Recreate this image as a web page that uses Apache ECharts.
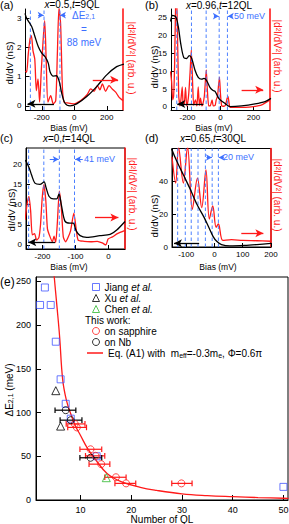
<!DOCTYPE html>
<html><head><meta charset="utf-8">
<script src="https://cdn.jsdelivr.net/npm/echarts@6/dist/echarts.min.js"></script>
<style>html,body{margin:0;padding:0;background:#fff}#c{width:289px;height:524px}</style>
</head><body><div id="c"></div>
<script>
// ---------- DATA ----------
// Panel (a): x=0.5, t=9QL   [bias mV, value]
const a_dIdV = [[-303,3.16],[-293,2.99],[-262,2.71],[-242,2.37],[-221,2.02],[-200,1.8],[-180,1.68],[-160,1.46],[-149,1.17],[-129,1.02],[-110,1.03],[-92,0.83],[-77,0.43],[-57,0.09],[-26,0.0],[15,0.07],[77,0.32],[138,0.66],[200,1.06],[261,1.34],[306,1.43]];
const a_d2 = [[-300,1.2],[-293,1.15],[-283,1.77],[-272,2.29],[-264,2.4],[-254,1.89],[-243,1.6],[-233,0.52],[-223,0.92],[-213,0.13],[-203,1.2],[-192,2.2],[-182,2.91],[-172,1.43],[-162,0.13],[-145,0.35],[-129,0.07],[-114,0.18],[-104,1.77],[-94,3.35],[-84,2.8],[-73,0.64],[-63,0.13],[-43,0.1],[-2,0.07],[40,0.18],[80,0.39],[101,0.58],[122,0.5],[142,0.69],[158,0.55],[173,0.75],[193,0.5],[214,0.69],[234,0.58],[255,0.47],[275,0.3],[300,0.18]];
const a_levels = [-270,-186,-88];
// Panel (b): x=0.96, t=12QL
const b_dIdV = [[-303,24],[-290,25.7],[-270,25.2],[-256,22.6],[-240,17.5],[-222,13.8],[-205,13.6],[-190,14.4],[-175,13.7],[-155,10.4],[-135,8.3],[-115,7.8],[-100,8.0],[-84,7.4],[-64,5.5],[-45,4.6],[-33,4.4],[-17,2.9],[-3,2.0],[27,1.0],[58,0.1],[128,0.3],[209,0.85],[270,1.5],[306,2.4]];
const b_d2 = [[-303,10],[-296,7],[-290,2],[-284,3],[-278,12],[-272,28.5],[-265,30],[-259,16],[-253,3],[-246,0.3],[-240,2],[-232,5.6],[-226,0.5],[-219,1],[-212,5.5],[-205,0.3],[-198,1.5],[-192,4],[-184,10],[-177,16],[-170,8],[-163,0.5],[-152,2],[-143,0.3],[-135,5.6],[-128,0.4],[-121,2.5],[-113,0.3],[-107,0.8],[-98,3],[-92,7],[-86,10.4],[-80,5],[-72,0.3],[-62,0.3],[-51,2],[-44,0.3],[-32,0.5],[-26,2],[-18,3],[-12,6],[-6,8.4],[0,3.5],[7,0.3],[18,0.2],[30,0.5],[40,2.4],[46,2.9],[52,1],[58,-0.1],[100,-0.1],[150,-0.1],[200,0.1],[250,0.6],[300,2]];
const b_levels = [-265,-176,-87,-8,42];
// Panel (c): x=0, t=14QL
const c_dIdV = [[-252,21],[-248,20.4],[-240,19],[-233,17.3],[-223,15.3],[-208,15.0],[-195,15.6],[-190,14.4],[-180,12],[-167,11.4],[-157,11.4],[-150,12.6],[-143,10],[-132,5.9],[-117,5.4],[-107,5.4],[-98,3.5],[-86,2.3],[-66,1.9],[-26,2.3],[5,2.6],[25,3.7],[50,5.8]];
const c_d2 = [[-253,6.2],[-246,10.5],[-241,12],[-236,8.5],[-231,2.5],[-224,2.8],[-218,1.2],[-211,1.8],[-206,5],[-201,11.5],[-196,14.9],[-190,11],[-185,4],[-177,2],[-170,0.8],[-165,2.2],[-160,0.6],[-155,5.5],[-149,13.3],[-143,9.2],[-137,2],[-130,0.8],[-123,1.8],[-115,3.5],[-105,7.9],[-98,4],[-92,1.2],[-74,0.9],[-54,0.8],[-34,0.9],[-19,0.5],[-8,0],[-1,1.5],[12,2],[27,2.8],[50,3.6]];
const c_levels = [-242,-196,-149,-103];
// Panel (d): x=0.65, t=30QL
const d_dIdV = [[-152,60],[-135,53],[-110,44],[-85,35],[-62,26],[-38,18.5],[-20,12],[-5,6.5],[8,3.5],[25,1.5],[55,0.7],[107,1],[150,1.5],[200,2.2]];
const d_d2 = [[-150,55],[-137,39],[-127,61],[-110,39],[-95,61],[-78,23],[-60,42],[-45,24],[-30,47],[-18,17],[-6,25],[6,12],[14,14],[30,4],[60,4.5],[100,4],[150,3.8],[200,3.5]];
const d_levels = [-130,-103,-82,-58,-32,-8,14];
// Panel (e): level spacing vs thickness
const jiangQL = [2.05,3.0,4.15,5.15,6.1,7.1,8.1,13.2,50];
const jiangE  = [223,243,223,181,138,110,93,50,15];
const xuQL = [5.15,6.1];
const xuE  = [125,84.5];
const chenQL = [15.1];
const chenE  = [25.5];
const sapphQL = [8.9,9.3,12.0,13.0,14.1,17.0,19.0,29.9];
const sapphE  = [87,83,58,50.5,41,26,19,19];
const sapphLo = [7.2,7.5,9.9,11.0,11.7,14.8,16.8,28.0];
const sapphHi = [10.9,11.2,14.2,14.8,15.8,19.0,20.9,32.0];
const nbQL = [7.1,8.1,12.0];
const nbE  = [102.7,91.3,48.3];
const nbLo = [5.0,6.0,9.9];
const nbHi = [9.1,10.3,14.2];
const eqQL = [4.7,5.0,5.4,5.9,6.5,7.2,8.0,9.0,10.0,11.4,13.0,15.3,18.0,21.8,25.0,30.0,35.0,40.0,45.0,50.0,51.0];
const eqE  = [265,245,220,187,138,115,100,85,74,59,46,30,21,14.5,11,7,5,3.8,2.8,2.0,1.9];
// tick labels
const eTicksX = [10,20,30,40,50];
const eTicksY = [0,50,100,150,200,250];

// ---------- STYLE ----------
const FF = '"Liberation Sans", Arial, Helvetica, sans-serif';
const RED = '#ff1a1a', BLUE = '#3d70ff', DASH = '#4d80ff', SQ = '#4256ff', GREEN = '#2fb82f';
const zip = (a,b) => a.map((v,i)=>[v,b[i]]);

const panels = [
 {grid:{left:25.5, top:9, width:97.5, height:101}, border:false, x:[-300,300], xt:[-200,0,200], y:[-0.14,3.31], yt:[0,1,2,3],
  black:a_dIdV, red:a_d2, levels:a_levels, dE:[[-222,-188],[-54,-88],3.1], bA:[[-125,0.07],[-288,0.07]], rA:[[114,0.89],[270,0.89]], smooth:0.25},
 {grid:{left:171, top:9, width:99, height:101}, border:false, x:[-300,300], xt:[-200,0,200], y:[-0.85,27.5], yt:[0,5,10,15,20,25],
  black:b_dIdV, red:b_d2, levels:b_levels, dE:[[-40,-10],[72,44],25.5], bA:[[-104,0.85],[-262,0.85]], rA:[[128,4.8],[259,4.8]], smooth:0.15},
 {grid:{left:26, top:148, width:99, height:101}, border:true, x:[-250,50], xt:[-200,-100,0], y:[-1,24], yt:[0,5,10,15,20],
  black:c_dIdV, red:c_d2, levels:c_levels, dE:[[-178,-151],[-78,-101],21.2], bA:[[-162,0.67],[-243,0.67]], rA:[[-41,6.8],[30,6.8]], smooth:0.2},
 {grid:{left:172, top:148.5, width:99, height:98.5}, border:true, x:[-150,200], xt:[-100,0,100,200], y:[0,60], yt:[0,20,40],
  black:d_dIdV, red:d_d2, levels:d_levels, dE:[[-28,-9],[33,15],54.5], bA:[[-54,2.3],[-143,2.3]], rA:[[95,8.4],[173,8.4]], smooth:0.35}
];

const grids=[], xAxes=[], yAxes=[], series=[];
const arrow = (from,to,color,size,w) => [
  {coord:from, symbol:'none', lineStyle:{color:color,width:w,type:'solid'}, itemStyle:{color:color}},
  {coord:to, symbol:'arrow', symbolSize:size, lineStyle:{color:color,width:w,type:'solid'}, itemStyle:{color:color}}
];

panels.forEach((p,i)=>{
  grids.push(Object.assign({show:p.border, borderColor:'#000', borderWidth:1, containLabel:false, outerBoundsMode:'none'}, p.grid));
  xAxes.push({type:'value', gridIndex:i, min:p.x[0], max:p.x[1],
    axisLine:{show:true, onZero:false, lineStyle:{color:'#000', width:1}},
    axisTick:{show:true, inside:true, length:4, customValues:p.xt, lineStyle:{color:'#000'}},
    axisLabel:{customValues:p.xt, fontSize:8, fontFamily:FF, color:'#000', margin:3},
    splitLine:{show:false}});
  yAxes.push({type:'value', gridIndex:i, position:'left', min:p.y[0], max:p.y[1],
    axisLine:{show:true, onZero:false, lineStyle:{color:'#000', width:1}},
    axisTick:{show:true, inside:true, length:4, customValues:p.yt, lineStyle:{color:'#000'}},
    axisLabel:{customValues:p.yt, fontSize:8, fontFamily:FF, color:'#000', margin:4},
    splitLine:{show:false}});
  yAxes.push({type:'value', gridIndex:i, position:'right', min:p.y[0], max:p.y[1],
    axisLine:{show:true, onZero:false, lineStyle:{color:RED, width:1.6}},
    axisTick:{show:false}, axisLabel:{show:false}, splitLine:{show:false}});
  // blue dashed level lines: one two-point line series per level value
  p.levels.forEach(v=>{
    series.push({type:'line', xAxisIndex:i, yAxisIndex:2*i+1, data:[[v,p.y[0]],[v,p.y[1]]],
      symbol:'none', showSymbol:false, silent:true, animation:false, z:3,
      lineStyle:{color:DASH, width:1, type:[3.5,2.5]}, itemStyle:{color:DASH}});
  });
  // red d2I/dV2 curve, carrying the blue spacing arrows and the red direction arrow
  series.push({type:'line', xAxisIndex:i, yAxisIndex:2*i+1, data:p.red, symbol:'none', smooth:p.smooth,
    lineStyle:{color:RED, width:1.3}, itemStyle:{color:RED}, z:2, silent:true, animation:false,
    markLine:{silent:true, animation:false, symbol:'none', label:{show:false}, emphasis:{disabled:true},
      data:[
        arrow([p.dE[0][0],p.dE[2]],[p.dE[0][1],p.dE[2]],BLUE,[5,6],1),
        arrow([p.dE[1][0],p.dE[2]],[p.dE[1][1],p.dE[2]],BLUE,[5,6],1),
        arrow(p.rA[0],p.rA[1],RED,[6,8],1.3)
      ]}});
  // black dI/dV curve, carrying the black direction arrow
  series.push({type:'line', xAxisIndex:i, yAxisIndex:2*i, data:p.black, symbol:'none', smooth:0.3,
    lineStyle:{color:'#000', width:1.3}, itemStyle:{color:'#000'}, z:4, silent:true, animation:false,
    markLine:{silent:true, animation:false, symbol:'none', label:{show:false}, emphasis:{disabled:true},
      data:[arrow(p.bA[0],p.bA[1],'#000',[6,8],1.3)]}});
});

// Panel (e)
grids.push({left:36, top:277, width:252, height:223, show:true, borderColor:'#000', borderWidth:1, containLabel:false, outerBoundsMode:'none'});
xAxes.push({type:'value', gridIndex:4, min:1.25, max:50.9,
  axisLine:{show:true, onZero:false, lineStyle:{color:'#000'}},
  axisTick:{show:true, inside:true, length:5, customValues:eTicksX, lineStyle:{color:'#000'}},
  axisLabel:{customValues:eTicksX, fontSize:9, fontFamily:FF, color:'#000', margin:5},
  splitLine:{show:false},
  name:'Number of QL', nameLocation:'middle', nameGap:12, nameTextStyle:{fontSize:10, fontFamily:FF, color:'#000', lineHeight:10}});
yAxes.push({type:'value', gridIndex:4, min:0, max:255,
  axisLine:{show:true, onZero:false, lineStyle:{color:'#000'}},
  axisTick:{show:true, inside:true, length:5, customValues:eTicksY, lineStyle:{color:'#000'}},
  axisLabel:{customValues:eTicksY, fontSize:9, fontFamily:FF, color:'#000', margin:5},
  splitLine:{show:false}});
const E_X = 4, E_Y = 8;
const hollow = c => ({color:'rgba(255,255,255,0)', borderColor:c, borderWidth:1});
const errSeries = (ql,e,lo,hi,color) => ({type:'custom', xAxisIndex:E_X, yAxisIndex:E_Y, silent:true, animation:false, z:3,
  data: ql.map((v,i)=>[v,e[i],lo[i],hi[i]]),
  encode:{x:0, y:1},
  renderItem:(params, api)=>{
    const y=api.value(1), p1=api.coord([api.value(2),y]), p2=api.coord([api.value(3),y]);
    const c=2.8, st={stroke:color, lineWidth:1.2};
    return {type:'group', children:[
      {type:'line', shape:{x1:p1[0],y1:p1[1],x2:p2[0],y2:p2[1]}, style:st},
      {type:'line', shape:{x1:p1[0],y1:p1[1]-c,x2:p1[0],y2:p1[1]+c}, style:st},
      {type:'line', shape:{x1:p2[0],y1:p2[1]-c,x2:p2[0],y2:p2[1]+c}, style:st}]};
  }});
series.push({type:'line', name:'Eq. (A1)', xAxisIndex:E_X, yAxisIndex:E_Y, data:zip(eqQL,eqE), symbol:'none', showSymbol:false, smooth:0.4,
  lineStyle:{color:RED, width:1.3}, itemStyle:{color:RED}, z:2, silent:true, animation:false});
series.push(errSeries(sapphQL,sapphE,sapphLo,sapphHi,RED));
series.push(errSeries(nbQL,nbE,nbLo,nbHi,'#000'));
const sc = (name,ql,e,sym,size,c) => ({type:'scatter', name, xAxisIndex:E_X, yAxisIndex:E_Y, data:zip(ql,e),
  symbol:sym, symbolSize:size, itemStyle:hollow(c), z:5, silent:true, animation:false});
series.push(sc('Jiang et al.',jiangQL,jiangE,'rect',7,SQ));
series.push(sc('Xu et al.',xuQL,xuE,'triangle',8,'#000'));
series.push(sc('Chen et al.',chenQL,chenE,'triangle',8,GREEN));
series.push(sc('on sapphire',sapphQL,sapphE,'circle',7,RED));
series.push(sc('on Nb',nbQL,nbE,'circle',7,'#000'));

const LEG = {
  'Jiang et al.':'Jiang {i|et al.}', 'Xu et al.':'Xu {i|et al.}', 'Chen et al.':'Chen {i|et al.}',
  'on sapphire':'on sapphire', 'on Nb':'on Nb',
  'Eq. (A1)':'Eq. (A1) with  m{s|eff}=-0.3m{s|e}, Φ=0.6π'
};
const legText = {fontSize:10, fontFamily:FF, color:'#000', lineHeight:11,
  rich:{i:{fontStyle:'italic', fontSize:10, fontFamily:FF, color:'#000', lineHeight:11},
        s:{fontSize:7, fontFamily:FF, color:'#000', lineHeight:6, verticalAlign:'bottom'}}};
const legBase = {orient:'vertical', selectedMode:false, itemGap:0, padding:0, formatter:n=>LEG[n]||n, textStyle:legText};
const legend = [
  Object.assign({}, legBase, {left:92, top:281.5, itemWidth:7, itemHeight:7, data:[
    {name:'Jiang et al.', icon:'rect', itemStyle:hollow(SQ)},
    {name:'Xu et al.', icon:'triangle', itemStyle:hollow('#000')},
    {name:'Chen et al.', icon:'triangle', itemStyle:hollow(GREEN)}]}),
  Object.assign({}, legBase, {left:92, top:325.5, itemWidth:7, itemHeight:7, data:[
    {name:'on sapphire', icon:'circle', itemStyle:hollow(RED)},
    {name:'on Nb', icon:'circle', itemStyle:hollow('#000')}]}),
  Object.assign({}, legBase, {left:87, top:347.5, itemWidth:16, itemHeight:1.5, data:[
    {name:'Eq. (A1)', icon:'rect', itemStyle:{color:RED, borderWidth:0}}]})
];

// ---------- TEXT (labels, titles, axis names) ----------
const T = (x,y,text,o={}) => ({type:'text', x, y, rotation:o.rot||0, silent:true,
  style:{text, fill:o.color||'#000', fontSize:o.size||10, fontFamily:FF, fontStyle:o.style||'normal',
    align:o.align||'center', textAlign:o.align||'center', verticalAlign:'middle', textVerticalAlign:'middle',
    rich:{i:{fontStyle:'italic', fontSize:o.size||10, fontFamily:FF, fill:o.color||'#000'},
          n:{fontSize:o.size||10, fontFamily:FF, fill:o.color||'#000'},
          s:{fontSize:7, fontFamily:FF, fill:o.color||'#000', lineHeight:6, verticalAlign:'bottom'}}}});
const R90 = Math.PI/2;
const graphic = [
  T(0,5,'(a)',{align:'left',size:11}), T(145,5,'(b)',{align:'left',size:11}),
  T(0,138,'(c)',{align:'left',size:11}), T(145,138,'(d)',{align:'left',size:11}),
  T(0,282,'(e)',{align:'left',size:12}),
  T(72,4,'{i|x}=0.5,{i|t}=9QL'), T(219,5,'{i|x}=0.96,{i|t}=12QL'),
  T(69,138,'{i|x}=0,{i|t}=14QL'), T(213,138,'{i|x}=0.65,{i|t}=30QL'),
  T(69,128,'Bias (mV)',{size:8.5}), T(214,128,'Bias (mV)',{size:8.5}),
  T(69,267,'Bias (mV)',{size:8.5}), T(218,267,'Bias (mV)',{size:8.5}),
  T(9,63,'dI/dV (nS)',{rot:R90,size:9.5}), T(154,67,'dI/dV (nS)',{rot:R90,size:9.5}),
  T(11,210,'dI/dV (nS)',{rot:R90,size:9.5}), T(154,216,'dI/dV (nS)',{rot:R90,size:9.5}),
  T(131,58,'|d²I/dV²| (arb. u.)',{rot:-R90,size:10,color:RED}), T(277,56,'|d²I/dV²| (arb. u.)',{rot:-R90,size:10,color:RED}),
  T(132,194,'|d²I/dV²| (arb. u.)',{rot:-R90,size:10,color:RED}), T(277,195,'|d²I/dV²| (arb. u.)',{rot:-R90,size:10,color:RED}),
  T(72,15,'{n|ΔE}{s|2,1}',{align:'left',color:BLUE}), T(84,29,'=',{color:BLUE}), T(84,42,'88 meV',{color:BLUE}),
  T(234,16,'50 meV',{align:'left',size:9,color:BLUE}), T(84,159,'41 meV',{align:'left',size:9,color:BLUE}),
  T(223,157,'20 meV',{align:'left',size:9,color:BLUE}),
  T(9,390,'{n|ΔE}{s|2,1}{n| (meV)}',{rot:R90,size:10}),
  T(85,320,'This work:',{align:'left',size:10})
];

const chart = echarts.init(document.getElementById('c'), null, {renderer:'svg'});
chart.setOption({animation:false, textStyle:{fontFamily:FF}, grid:grids, xAxis:xAxes, yAxis:yAxes, series, legend, graphic:{elements:graphic}});
</script></body></html>
